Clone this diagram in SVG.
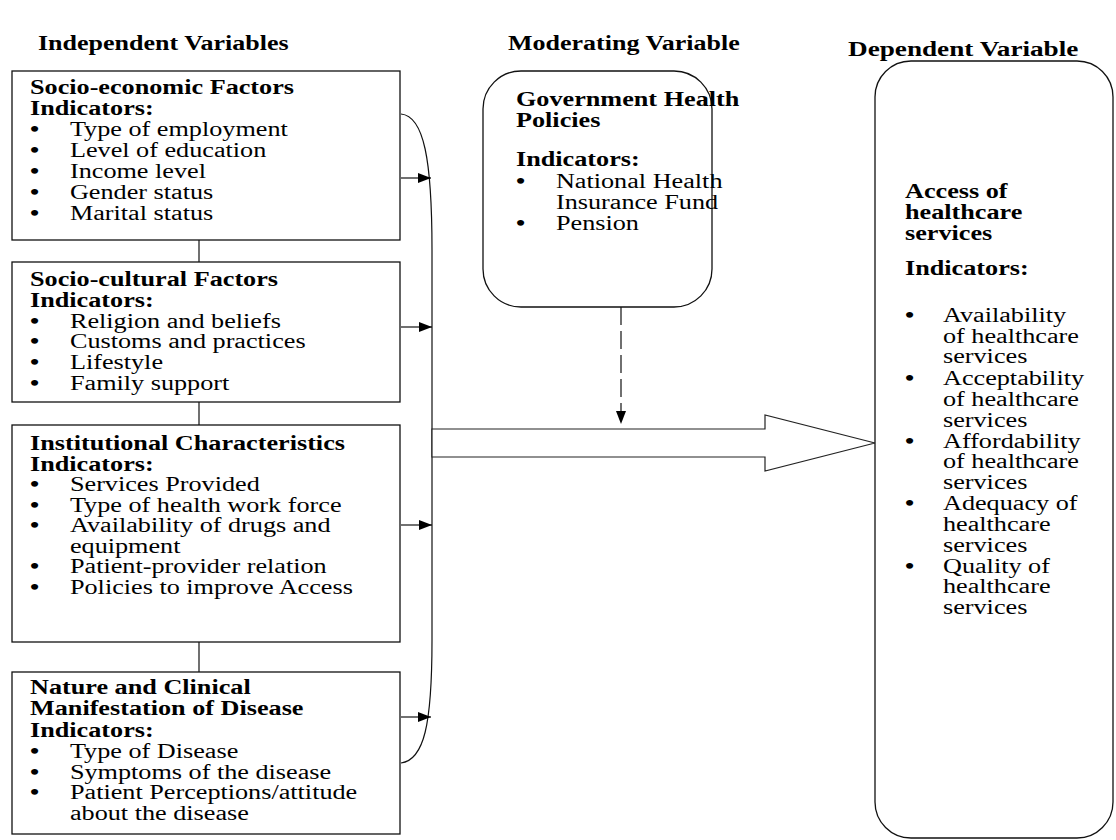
<svg xmlns="http://www.w3.org/2000/svg" width="1116" height="840" viewBox="0 0 1116 840">
<style>
text{font-family:"Liberation Serif","Times New Roman",serif;font-size:20px;fill:#000}
.b{font-weight:bold}
.bl{font-weight:bold}
.box{fill:#fff;stroke:#111;stroke-width:1.3}
.ln{fill:none;stroke:#111;stroke-width:1.2}
</style>
<defs>
<marker id="ah" markerUnits="userSpaceOnUse" markerWidth="14" markerHeight="10" refX="13" refY="5" orient="auto">
<path d="M0,0 L13,5 L0,10 Z" fill="#000"/>
</marker>
</defs>
<rect width="1116" height="840" fill="#fff"/>

<g id="headers">
<g transform="translate(38,0) scale(1.3,1)"><text class="b" x="0" y="50">Independent Variables</text></g>
<g transform="translate(508,0) scale(1.3,1)"><text class="b" x="0" y="50">Moderating Variable</text></g>
<g transform="translate(848,0) scale(1.36,1)"><text class="b" x="0" y="56">Dependent Variable</text></g>
</g>

<g id="connectors">
<line class="ln" x1="199" y1="240" x2="199" y2="262"/>
<line class="ln" x1="199" y1="402" x2="199" y2="425"/>
<line class="ln" x1="199" y1="642" x2="199" y2="672"/>
<path class="ln" d="M401,114 C424,116 432,160 432,250 L432,640 C432,725 424,760 401,763"/>
<line class="ln" x1="401" y1="178" x2="431" y2="178" marker-end="url(#ah)"/>
<line class="ln" x1="401" y1="327" x2="432" y2="327" marker-end="url(#ah)"/>
<line class="ln" x1="401" y1="525" x2="432" y2="525" marker-end="url(#ah)"/>
<line class="ln" x1="401" y1="717" x2="431" y2="717" marker-end="url(#ah)"/>
<polygon points="432,429 765,429 765,415 875,443 765,471 765,457 432,457" fill="#fff" stroke="#222" stroke-width="1.2"/>
<line x1="621" y1="307" x2="621" y2="424" stroke="#111" stroke-width="1.2" stroke-dasharray="18,6" marker-end="url(#ah)"/>
</g>

<g id="socio-economic">
<rect class="box" x="12" y="71" width="388" height="169"/>
<g transform="translate(30,0) scale(1.31,1)">
<text class="b" x="0" y="94">Socio-economic Factors</text>
<text class="b" x="0" y="115">Indicators:</text>
<text y="136"><tspan class="bl" x="0">•</tspan><tspan x="30.5">Type of employment</tspan></text>
<text y="157"><tspan class="bl" x="0">•</tspan><tspan x="30.5">Level of education</tspan></text>
<text y="178"><tspan class="bl" x="0">•</tspan><tspan x="30.5">Income level</tspan></text>
<text y="199"><tspan class="bl" x="0">•</tspan><tspan x="30.5">Gender status</tspan></text>
<text y="220"><tspan class="bl" x="0">•</tspan><tspan x="30.5">Marital status</tspan></text>
</g>
</g>

<g id="socio-cultural">
<rect class="box" x="12" y="262" width="388" height="140"/>
<g transform="translate(30,0) scale(1.31,1)">
<text class="b" x="0" y="286.5">Socio-cultural Factors</text>
<text class="b" x="0" y="307">Indicators:</text>
<text y="328"><tspan class="bl" x="0">•</tspan><tspan x="30.5">Religion and beliefs</tspan></text>
<text y="348.5"><tspan class="bl" x="0">•</tspan><tspan x="30.5">Customs and practices</tspan></text>
<text y="369"><tspan class="bl" x="0">•</tspan><tspan x="30.5">Lifestyle</tspan></text>
<text y="390"><tspan class="bl" x="0">•</tspan><tspan x="30.5">Family support</tspan></text>
</g>
</g>

<g id="institutional">
<rect class="box" x="12" y="425" width="388" height="217"/>
<g transform="translate(30,0) scale(1.31,1)">
<text class="b" x="0" y="450">Institutional Characteristics</text>
<text class="b" x="0" y="470.7">Indicators:</text>
<text y="491"><tspan class="bl" x="0">•</tspan><tspan x="30.5">Services Provided</tspan></text>
<text y="511.7"><tspan class="bl" x="0">•</tspan><tspan x="30.5">Type of health work force</tspan></text>
<text y="532"><tspan class="bl" x="0">•</tspan><tspan x="30.5">Availability of drugs and</tspan></text>
<text x="30.5" y="552.7">equipment</text>
<text y="573"><tspan class="bl" x="0">•</tspan><tspan x="30.5">Patient-provider relation</tspan></text>
<text y="594"><tspan class="bl" x="0">•</tspan><tspan x="30.5">Policies to improve Access</tspan></text>
</g>
</g>

<g id="disease">
<rect class="box" x="12" y="672" width="388" height="162"/>
<g transform="translate(30,0) scale(1.31,1)">
<text class="b" x="0" y="694">Nature and Clinical</text>
<text class="b" x="0" y="715.5">Manifestation of Disease</text>
<text class="b" x="0" y="737">Indicators:</text>
<text y="758"><tspan class="bl" x="0">•</tspan><tspan x="30.5">Type of Disease</tspan></text>
<text y="779"><tspan class="bl" x="0">•</tspan><tspan x="30.5">Symptoms of the disease</tspan></text>
<text y="799.5"><tspan class="bl" x="0">•</tspan><tspan x="30.5">Patient Perceptions/attitude</tspan></text>
<text x="30.5" y="820">about the disease</text>
</g>
</g>

<g id="government">
<rect class="box" x="483" y="71" width="229" height="236" rx="38" ry="38"/>
<g transform="translate(516,0) scale(1.31,1)">
<text class="b" x="0" y="106">Government Health</text>
<text class="b" x="0" y="127.5">Policies</text>
<text class="b" x="0" y="166">Indicators:</text>
<text y="188"><tspan class="bl" x="0">•</tspan><tspan x="30.5">National Health</tspan></text>
<text x="30.5" y="209">Insurance Fund</text>
<text y="230"><tspan class="bl" x="0">•</tspan><tspan x="30.5">Pension</tspan></text>
</g>
</g>

<g id="access">
<rect class="box" x="875" y="61" width="238" height="777" rx="36" ry="36"/>
<g transform="translate(905,0) scale(1.31,1)">
<text class="b" x="0" y="198">Access of</text>
<text class="b" x="0" y="219.5">healthcare</text>
<text class="b" x="0" y="240">services</text>
<text class="b" x="0" y="275">Indicators:</text>
<text y="322"><tspan class="bl" x="0">•</tspan><tspan x="29">Availability</tspan></text>
<text x="29" y="343">of healthcare</text>
<text x="29" y="363.5">services</text>
<text y="385"><tspan class="bl" x="0">•</tspan><tspan x="29">Acceptability</tspan></text>
<text x="29" y="406">of healthcare</text>
<text x="29" y="426.7">services</text>
<text y="447.7"><tspan class="bl" x="0">•</tspan><tspan x="29">Affordability</tspan></text>
<text x="29" y="468">of healthcare</text>
<text x="29" y="489">services</text>
<text y="510"><tspan class="bl" x="0">•</tspan><tspan x="29">Adequacy of</tspan></text>
<text x="29" y="531">healthcare</text>
<text x="29" y="551.7">services</text>
<text y="572.7"><tspan class="bl" x="0">•</tspan><tspan x="29">Quality of</tspan></text>
<text x="29" y="593">healthcare</text>
<text x="29" y="614">services</text>
</g>
</g>
</svg>
